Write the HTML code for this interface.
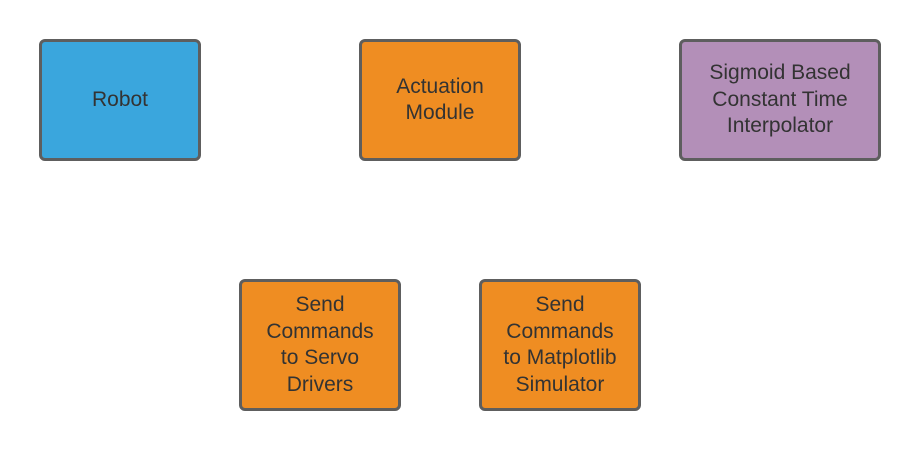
<!DOCTYPE html>
<html><head><style>
body{margin:0;width:920px;height:451px;background:#fff;position:relative;overflow:hidden;font-family:"Liberation Sans",sans-serif}
.b{position:absolute;box-sizing:border-box;border:3px solid #5e5e5e;border-radius:6px;display:flex;align-items:center;justify-content:center;text-align:center;font-size:21px;line-height:26.5px;color:#333}
.o{background:#ef8d22}
</style></head><body>
<div class="b" style="left:39px;top:39px;width:162px;height:122px;background:#3aa6dd">Robot</div>
<div class="b o" style="left:359px;top:39px;width:162px;height:122px">Actuation<br>Module</div>
<div class="b" style="left:679px;top:39px;width:202px;height:122px;background:#b38fb8">Sigmoid Based<br>Constant Time<br>Interpolator</div>
<div class="b o" style="left:239px;top:279px;width:162px;height:132px">Send<br>Commands<br>to Servo<br>Drivers</div>
<div class="b o" style="left:479px;top:279px;width:162px;height:132px">Send<br>Commands<br>to Matplotlib<br>Simulator</div>
</body></html>
